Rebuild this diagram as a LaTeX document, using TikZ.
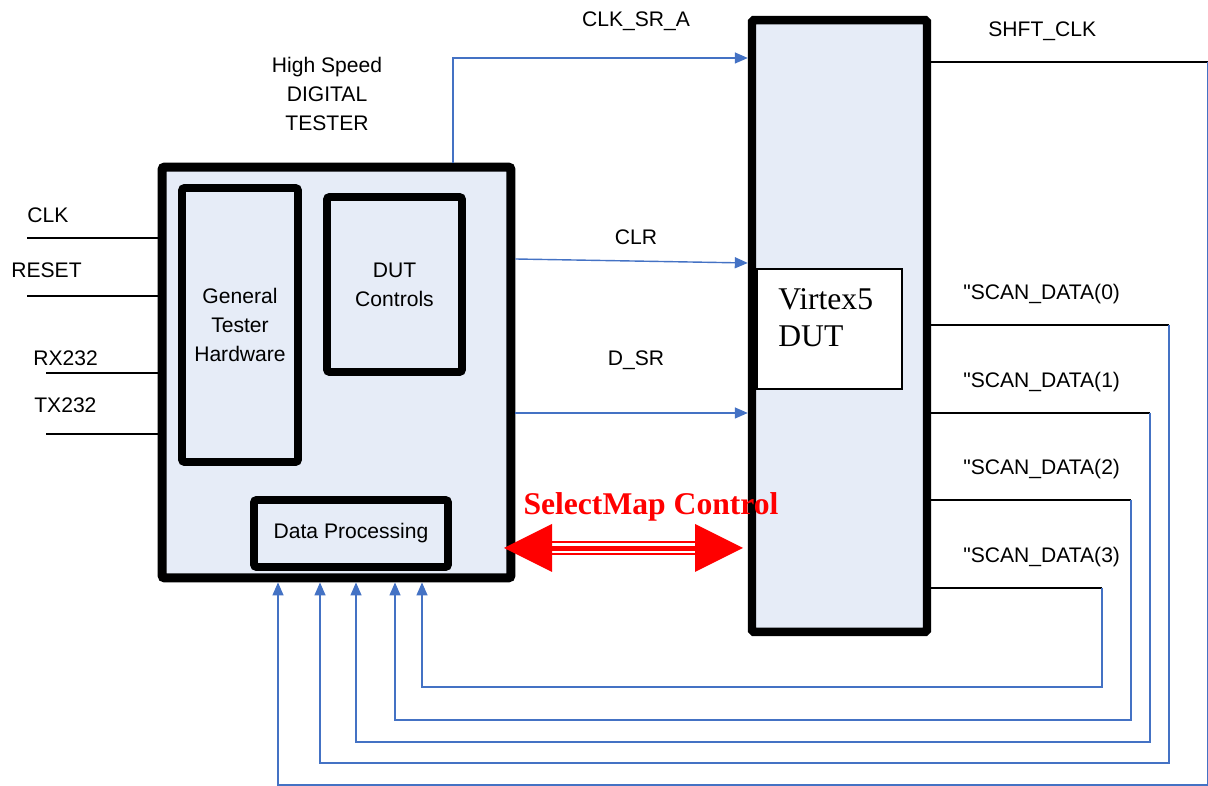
\documentclass[tikz,border=0pt]{standalone}
\usepackage{fontspec}
\setmainfont{Liberation Serif}
\setsansfont{Liberation Sans}
\usetikzlibrary{arrows.meta}

\definecolor{boxfill}{RGB}{230,236,247}
\definecolor{wireblue}{RGB}{68,114,196}

\tikzset{
  block/.style={draw, fill=boxfill, rounded corners=1.5pt, inner sep=0pt},
  sig/.style={font=\sffamily\fontsize{12}{16.4}\selectfont, align=center, inner sep=0pt},
  wire/.style={line width=0.6pt},
  bus/.style={draw=wireblue, line width=0.8pt, -{Triangle[length=0.26cm,width=0.22cm]}},
}

\begin{document}
\begin{tikzpicture}[x=0.02cm, y=-0.02cm]
    \useasboundingbox (0,0) rectangle (1208,786);

    % tester and its blocks
    \node[block, line width=5.1pt, minimum width=6.98cm, minimum height=8.22cm] (tester) at (336.5,372.5) {};
    \node[block, line width=4.5pt, minimum width=2.32cm, minimum height=5.48cm, sig] (gth) at (240,325) {General\\Tester\\Hardware};
    \node[block, line width=4.5pt, minimum width=2.7cm, minimum height=3.5cm, sig] (ctrl) at (394.5,284.5) {DUT\\Controls};
    \node[block, line width=4.5pt, minimum width=3.88cm, minimum height=1.34cm, sig] (dp) at (351,533.5) {Data Processing};
    \node[sig] (title) at (327,94) {High Speed\\DIGITAL\\TESTER};

    % device under test
    \node[block, line width=4.8pt, rounded corners=1pt, minimum width=3.5cm, minimum height=12.24cm] (dut) at (839.5,326) {};
    \node[draw, fill=white, line width=0.6pt, minimum width=2.9cm, minimum height=2.4cm] (v5) at (829.5,329) {};
    \node[anchor=north west, align=left, inner sep=0pt, font=\fontsize{18}{21}\selectfont] (v5txt) at (778,288) {Virtex5\\DUT};

    % inputs on the left
    \foreach \name/\lx/\ly/\wx/\wy in {CLK/27/223/27/238, RESET/11/278/27/296, RX232/33/366/46/373, TX232/34/413/46/434} {
        \node[sig, anchor=base west] (in\name) at (\lx,\ly) {\name};
        \coordinate (w\name) at (\wx,\wy);
        \draw[wire] (w\name) -- (tester.west |- w\name);
    }

    % tester to dut
    \coordinate (srA) at (453,58);
    \draw[bus] (tester.north -| srA) -- (srA) -- (dut.west |- srA);
    \node[sig, anchor=base] (lsrA) at (636,27) {CLK\_SR\_A};
    \draw[bus] (tester.east |- 0,259) -- (dut.west |- 0,263);
    \node[sig, anchor=base] (lclr) at (636,245) {CLR};
    \draw[bus] (tester.east |- 0,413) -- (dut.west |- 0,413);
    \node[sig, anchor=base] (ldsr) at (636,366) {D\_SR};

    % selectmap
    \coordinate (smL) at (504,548);
    \coordinate (smR) at (743,548);
    \fill[red] (smL) -- ++(48,-24) -- ++(0,48) -- cycle;
    \fill[red] (smR) -- ++(-48,-24) -- ++(0,48) -- cycle;
    \draw[red, line width=0.04cm] (550,542) -- (697,542);
    \draw[red, line width=0.1cm] (550,548.3) -- (697,548.3);
    \draw[red, line width=0.04cm] (550,554) -- (697,554);
    \node[anchor=base, inner sep=0pt, text=red, font=\bfseries\fontsize{18}{21}\selectfont] (lsm) at (651,515) {SelectMap Control};

    % feedback to the tester
    \node[sig, anchor=base west] (lshft) at (988,37) {SHFT\_CLK};
    \coordinate (shft) at (1207.5,62);
    \draw[wire] (dut.east |- shft) -- (shft);
    \draw[bus] (shft) -- (1207.5,785) -- (278,785) -- (tester.south -| 278,0);
    \foreach \i/\ys/\xr/\yb/\xb in {0/325/1169/763/320, 1/413/1150/742/356, 2/500/1131/720/395, 3/588/1102/687/422} {
        \node[sig, anchor=base west] (lscan\i) at (963,\ys-25) {\textquotedbl SCAN\_DATA(\i)};
        \coordinate (scan\i) at (\xr,\ys);
        \draw[wire] (dut.east |- scan\i) -- (scan\i);
        \draw[bus] (scan\i) -- (\xr,\yb) -- (\xb,\yb) -- (tester.south -| \xb,0);
    }
\end{tikzpicture}
\end{document}
